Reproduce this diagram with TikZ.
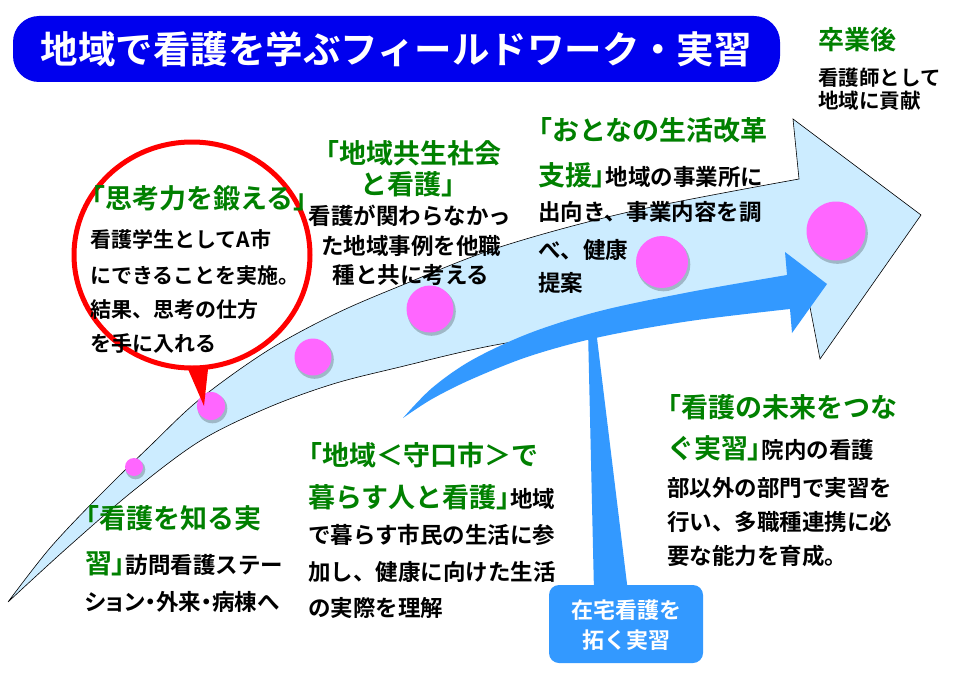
\documentclass[tikz,border=0pt]{standalone}
\usepackage{fontspec}
\newfontfamily\jpb{Noto Sans CJK JP Bold}
\definecolor{titleblue}{RGB}{0,0,238}
\definecolor{grn}{RGB}{0,128,0}
\definecolor{lightfill}{RGB}{204,236,255}
\definecolor{darkarrow}{RGB}{51,153,255}
\definecolor{pinkdot}{RGB}{255,102,255}
\newcommand{\greentxt}[1]{{\color{grn}\fontsize{27}{27}\selectfont #1}}
\newcommand{\closeb}{{\addfontfeatures{RawFeature=+palt}」}}
\tikzset{
  txt/.style={inner sep=0pt, anchor=base west, text=black, font=\jpb\fontsize{22.5}{22.5}\selectfont},
  txtc/.style={txt, anchor=base},
  head/.style={txt, text=grn, font=\jpb\fontsize{27}{27}\selectfont},
  headc/.style={head, anchor=base},
  smalltxt/.style={txt, font=\jpb\fontsize{21}{21}\selectfont},
  cornertxt/.style={txt, font=\jpb\fontsize{20.5}{20.5}\selectfont},
  whitetxt/.style={inner sep=0pt, anchor=base, text=white, font=\jpb\fontsize{22}{22}\selectfont},
  bigarrow/.style={fill=lightfill, draw=black, line width=0.6pt, line join=miter},
  bluearrow/.style={fill=darkarrow},
  dotshadow/.style={fill=black, fill opacity=0.22},
  dotfill/.style={fill=pinkdot},
}
\begin{document}
\begin{tikzpicture}[x=1pt,y=-1pt]
\useasboundingbox (0,0) rectangle (960,674);
\fill[white] (0,0) rectangle (960,674);

% title
\fill[titleblue, rounded corners=26pt] (13,16) rectangle (780,82);
\node[inner sep=0pt, anchor=base, text=white, font=\jpb\fontsize{37.5}{37.5}\selectfont] (title) at (396,64) {地域で看護を学ぶフィールドワーク・実習};

% big light-blue arrow
\path[bigarrow] plot[smooth, tension=0.55] coordinates {(8,602) (50,548) (100,495) (150,446) (200,399) (267,351) (333,315) (400,286) (500,247) (633,211) (799,179)}
  -- (793,119) -- (921,215) -- (820,359)
  -- plot[smooth, tension=0.55] coordinates {(809,302) (700,314) (600,328) (490,346) (400,367) (333,384) (267,408) (200,441) (133,491) (67,548) (8,602)} -- cycle;

% dots
\foreach \cx/\cy/\r in {134/467/9, 211/406/14, 313/357/18.5, 430/309/23.5, 662/262/26, 836/231/29.5}{
  \fill[dotshadow] (\cx+1.5,\cy+2.5) circle [radius=\r+0.8];
  \fill[dotfill] (\cx,\cy) circle [radius=\r];
}

% dark blue arrow
\path[bluearrow] plot[smooth, tension=0.55] coordinates {(403,418) (432,388) (472,360) (530,333) (600,311) (690,292) (787,275)}
  -- (785,252) -- (827,284) -- (792,333)
  -- plot[smooth, tension=0.55] coordinates {(790,309) (690,321) (600,337) (530,356) (472,379) (432,399) (403,418)} -- cycle;

% callout zaitaku
\fill[darkarrow] (588,330) -- (596,330) -- (628,592) -- (594,592) -- cycle;
\fill[darkarrow, rounded corners=10pt] (549,585) rectangle (703,663);
\node[whitetxt] (c1) at (626,618) {在宅看護を};
\node[whitetxt] (c2) at (626,648) {拓く実習};

% red ellipse callout
\fill[red] (184,360) -- (204,406) -- (209,360) -- cycle;
\draw[red, line width=5pt, fill=white] (192,255) ellipse [x radius=118, y radius=113];

% ellipse texts
\node[head] (a0) at (78,208) {「思考力を鍛える」};
\node[smalltxt] (a1) at (90,247) {看護学生としてA市};
\node[smalltxt] (a2) at (90,283) {にできることを実施。};
\node[smalltxt] (a3) at (90,317) {結果、思考の仕方};
\node[smalltxt] (a4) at (90,351) {を手に入れる};

% top right
\node[head, font=\jpb\fontsize{26}{26}\selectfont] (r0) at (818,50) {卒業後};
\node[cornertxt] (r1) at (818,86) {看護師として};
\node[cornertxt] (r2) at (818,109) {地域に貢献};

% block B
\node[headc] (b0) at (407,163) {「地域共生社会};
\node[headc] (b1) at (414,194) {と看護」};
\node[txtc] (b2) at (410,224.5) {看護が関わらなかっ};
\node[txtc] (b3) at (411,254.5) {た地域事例を他職};
\node[txtc] (b4) at (411,283.5) {種と共に考える};

% block C
\node[head] (d0) at (525,140) {「おとなの生活改革};
\node[txt] (d1) at (538,185) {\greentxt{支援\closeb}地域の事業所に};
\node[txt] (d2) at (538,220.5) {出向き、事業内容を調};
\node[txt] (d3) at (538,258.5) {べ、健康};
\node[txt] (d4) at (538,291.5) {提案};

% block D
\node[head] (e0) at (654,417) {「看護の未来をつな};
\node[txt] (e1) at (667,458) {\greentxt{ぐ実習\closeb}院内の看護};
\node[txt] (e2) at (667,496.5) {部以外の部門で実習を};
\node[txt] (e3) at (667,530.5) {行い、多職種連携に必};
\node[txt] (e4) at (667,564.5) {要な能力を育成。};

% block E
\node[head] (f0) at (295,465) {「地域＜守口市＞で};
\node[txt] (f1) at (308,507) {\greentxt{暮らす人と看護\closeb}地域};
\node[txt] (f2) at (308,543.5) {で暮らす市民の生活に参};
\node[txt] (f3) at (308,580.5) {加し、健康に向けた生活};
\node[txt] (f4) at (308,616.5) {の実際を理解};

% block F
\node[head] (g0) at (72,528) {「看護を知る実};
\node[txt] (g1) at (85,573) {\greentxt{習\closeb}訪問看護ステー};
\node[txt] (g2) at (85,610.5) {\addfontfeatures{RawFeature=+palt}ション・外来・病棟へ};
\end{tikzpicture}
\end{document}
